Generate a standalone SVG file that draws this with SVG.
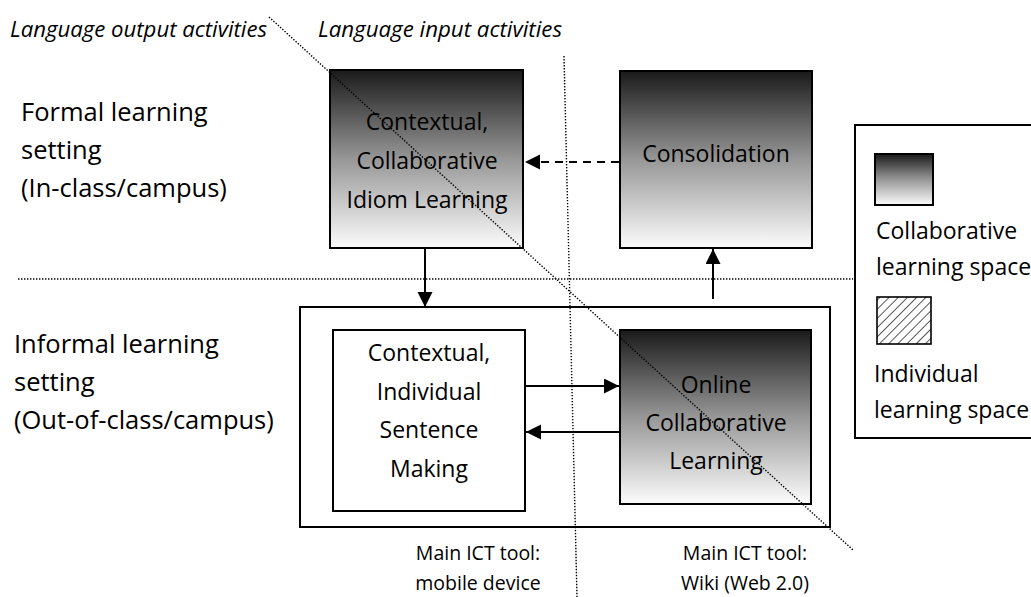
<svg xmlns="http://www.w3.org/2000/svg" width="1031" height="597" viewBox="0 0 1031 597">
  <defs>
    <style>
      text { font-family: "Open Sans", "Noto Sans", "DejaVu Sans", sans-serif; fill: #000; }
      .lbl { font-size: 25.5px; }
      .key { font-size: 23px; }
      .box-t { font-size: 23px; text-anchor: middle; }
      .hdr { font-size: 21px; font-style: italic; }
      .tool { font-size: 19.5px; text-anchor: middle; }
      .box { stroke: #000; stroke-width: 2; }
      .plain { fill: #fff; }
      .collab { fill: url(#shade); }
      .guide { fill: none; stroke: #000; stroke-width: 1.4; stroke-dasharray: 1.4 1.6; }
      .link { fill: none; stroke: #000; stroke-width: 2; }
      .dash { stroke-dasharray: 8 6; }
    </style>
    <linearGradient id="shade" x1="0" y1="0" x2="0" y2="1">
      <stop offset="0" stop-color="#1a1a1a"/>
      <stop offset="0.5" stop-color="#979797"/>
      <stop offset="1" stop-color="#fcfcfc"/>
    </linearGradient>
    <pattern id="hatch" patternUnits="userSpaceOnUse" width="6.5" height="6.5" patternTransform="rotate(45)">
      <rect width="6.5" height="6.5" fill="#fff"/>
      <line x1="0" y1="0" x2="0" y2="6.5" stroke="#222" stroke-width="1.5"/>
    </pattern>
    <marker id="head" markerUnits="userSpaceOnUse" markerWidth="16" markerHeight="16" refX="15" refY="7.5" orient="auto">
      <path d="M0,0 L15,7.5 L0,15 z" fill="#000"/>
    </marker>
  </defs>

  <rect width="1031" height="597" fill="#fff"/>

  <!-- activity headings -->
  <text class="hdr" x="10" y="37" textLength="257" lengthAdjust="spacingAndGlyphs">Language output activities</text>
  <text class="hdr" x="318" y="37" textLength="244" lengthAdjust="spacingAndGlyphs">Language input activities</text>

  <!-- setting labels -->
  <g id="formal-setting">
    <text class="lbl" x="21" y="121">Formal learning</text>
    <text class="lbl" x="21" y="159">setting</text>
    <text class="lbl" x="21" y="197">(In-class/campus)</text>
  </g>
  <g id="informal-setting">
    <text class="lbl" x="14" y="353">Informal learning</text>
    <text class="lbl" x="14" y="391">setting</text>
    <text class="lbl" x="14" y="429">(Out-of-class/campus)</text>
  </g>

  <!-- informal container -->
  <g id="informal-space">
    <rect class="box" x="300" y="307" width="530" height="220" fill="#fff"/>
  </g>

  <!-- nodes -->
  <g id="idiom-learning">
    <rect class="box collab" x="330" y="70" width="193" height="178"/>
    <text class="box-t" x="427" y="130">Contextual,</text>
    <text class="box-t" x="427" y="169">Collaborative</text>
    <text class="box-t" x="427" y="208">Idiom Learning</text>
  </g>
  <g id="consolidation">
    <rect class="box collab" x="620" y="71" width="192" height="177"/>
    <text class="box-t" x="716" y="162">Consolidation</text>
  </g>
  <g id="sentence-making">
    <rect class="box plain" x="333" y="330" width="192" height="181"/>
    <text class="box-t" x="429" y="361">Contextual,</text>
    <text class="box-t" x="429" y="400">Individual</text>
    <text class="box-t" x="429" y="438">Sentence</text>
    <text class="box-t" x="429" y="477">Making</text>
  </g>
  <g id="online-learning">
    <rect class="box collab" x="620" y="330" width="191" height="174"/>
    <text class="box-t" x="716" y="393">Online</text>
    <text class="box-t" x="716" y="431">Collaborative</text>
    <text class="box-t" x="716" y="469">Learning</text>
  </g>

  <!-- connectors -->
  <g id="connectors">
    <line class="link" x1="425" y1="248" x2="425" y2="307" marker-end="url(#head)"/>
    <line class="link" x1="713" y1="299" x2="713" y2="249" marker-end="url(#head)"/>
    <line class="link dash" x1="619" y1="162" x2="525" y2="162" marker-end="url(#head)"/>
    <line class="link" x1="526" y1="386" x2="619" y2="386" marker-end="url(#head)"/>
    <line class="link" x1="619" y1="432" x2="526" y2="432" marker-end="url(#head)"/>
  </g>

  <!-- dotted guide lines -->
  <g id="guides">
    <line class="guide" x1="18" y1="279" x2="853" y2="279"/>
    <line class="guide" x1="564" y1="56" x2="577" y2="597"/>
    <line class="guide" x1="269" y1="17" x2="853" y2="550"/>
  </g>

  <!-- tool notes -->
  <g id="tool-notes">
    <text class="tool" x="478" y="560">Main ICT tool:</text>
    <text class="tool" x="478" y="590">mobile device</text>
    <text class="tool" x="745" y="560">Main ICT tool:</text>
    <text class="tool" x="745" y="590">Wiki (Web 2.0)</text>
  </g>

  <!-- legend -->
  <g id="legend">
    <rect class="box" x="855" y="125" width="190" height="313" fill="#fff"/>
    <rect class="box collab" x="875" y="154" width="58" height="51" stroke-width="1.6"/>
    <text class="key" x="876" y="239">Collaborative</text>
    <text class="key" x="876" y="275">learning space</text>
    <rect x="877" y="297" width="54" height="47" fill="url(#hatch)" stroke="#000" stroke-width="1.6"/>
    <text class="key" x="874" y="382">Individual</text>
    <text class="key" x="874" y="418">learning space</text>
  </g>
</svg>
